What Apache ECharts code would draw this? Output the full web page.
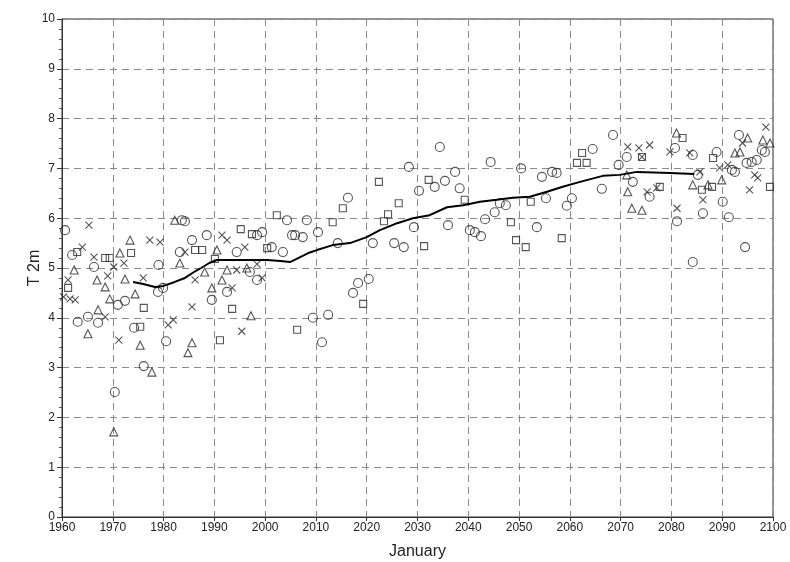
<!DOCTYPE html>
<html>
<head>
<meta charset="utf-8">
<script src="https://cdn.jsdelivr.net/npm/echarts@6/dist/echarts.min.js"></script>
<style>html,body{margin:0;padding:0;background:#fff;}#c{width:790px;height:562px;}</style>
</head>
<body>
<div id="c"></div>
<script>
const xTicks = [1960,1970,1980,1990,2000,2010,2020,2030,2040,2050,2060,2070,2080,2090,2100];
const yTicks = [0,1,2,3,4,5,6,7,8,9,10];

const circles = [
[1960.6,5.76],[1962,5.26],[1966.3,5.02],[1971,4.26],[1972.4,4.34],[1963.1,3.92],[1965.1,4.02],[1967.1,3.9],
[1974.2,3.8],[1980.5,3.53],[1976.1,3.03],[1970.4,2.51],[1983.6,5.96],[1983.2,5.32],[1978.9,4.52],[1979.9,4.6],[1979,5.06],
[1984.2,5.94],[1985.6,5.56],[1988.5,5.66],[1994.4,5.32],[1998.4,5.66],[1999.4,5.72],[2001.3,5.42],[2003.5,5.32],
[1997,4.92],[1998.4,4.76],[1992.5,4.52],[1989.5,4.36],[2004.3,5.96],[2008.2,5.96],[2005.3,5.66],[2005.9,5.66],
[2010.4,5.72],[2007.4,5.62],[2014.3,5.5],[2016.3,6.41],[2018.3,4.7],[2020.4,4.78],[2017.3,4.5],[2009.4,4.0],[2012.4,4.06],[2011.2,3.51],
[2021.2,5.5],[2025.4,5.5],[2027.3,5.42],[2028.3,7.03],[2029.3,5.82],[2030.3,6.55],[2033.4,6.63],[2034.4,7.43],[2035.4,6.75],[2036,5.86],
[2037.4,6.93],[2038.3,6.6],[2040.3,5.76],[2041.3,5.72],[2042.5,5.64],[2043.3,5.98],[2044.4,7.13],[2045.2,6.12],[2046.2,6.3],[2047.4,6.26],
[2050.4,7.0],[2053.5,5.82],[2054.5,6.83],[2055.3,6.4],[2056.5,6.93],[2057.4,6.91],[2059.4,6.25],[2060.4,6.4],
[2064.5,7.39],[2066.3,6.59],[2068.5,7.67],[2069.6,7.07],[2071.2,7.23],[2072.4,6.73],[2075.7,6.43],[2080.7,7.41],[2081.1,5.94],
[2084.2,7.27],[2084.2,5.12],[2085.2,6.87],[2086.2,6.1],[2088.9,7.33],[2090.1,6.33],[2091.3,6.02],[2091.9,6.97],[2092.5,6.93],
[2093.3,7.67],[2094.5,5.42],[2094.8,7.11],[2095.8,7.13],[2096.8,7.17],[2097.8,7.37],[2098.4,7.33]
];
const crosses = [
[1960.3,4.42],[1961.2,4.76],[1961.6,4.38],[1962.6,4.36],[1964,5.42],[1965.3,5.86],[1966.3,5.22],[1968.5,4.02],[1969,4.84],
[1970.2,5.02],[1971.2,3.55],[1972.2,5.1],[1976,4.8],[1977.3,5.56],[1979.3,5.52],[1980.9,3.86],[1981.9,3.96],
[1984.2,5.32],[1985.6,4.22],[1986.2,4.76],[1991.5,5.66],[1992.5,5.56],[1993.5,4.6],[1994.4,4.96],[1995.4,3.73],
[1996,5.42],[1998.4,5.08],[1999.4,4.8],
[2071.4,7.43],[2073.6,7.41],[2074.2,7.23],[2075.2,6.53],[2075.7,7.47],[2077.1,6.61],[2079.7,7.33],[2081.1,6.2],
[2083.6,7.31],[2085.6,6.93],[2086.2,6.37],[2089.5,7.01],[2091.1,7.07],[2094,7.51],[2095.4,6.57],[2096.4,6.87],[2097,6.81],[2098.6,7.83]
];
const triangles = [
[1962.4,4.96],[1965.1,3.68],[1966.9,4.76],[1967.1,4.16],[1968.5,4.62],[1969.4,4.38],[1970.2,1.71],[1971.4,5.3],[1972.4,4.78],
[1973.4,5.56],[1974.4,4.48],[1975.4,3.45],[1977.7,2.91],[1982.2,5.96],[1983.2,5.1],[1984.8,3.3],[1985.6,3.5],
[1988.1,4.92],[1989.5,4.6],[1990.5,5.36],[1991.5,4.76],[1992.5,4.96],[1996.4,5.0],[1997.2,4.04],
[2071.2,6.87],[2071.4,6.53],[2072.2,6.2],[2074.2,6.16],[2081,7.71],[2084.2,6.67],[2087.2,6.67],[2089.9,6.77],
[2092.5,7.31],[2093.5,7.33],[2095,7.61],[2098,7.57],[2099.4,7.51]
];
const squares = [
[1961.2,4.6],[1963,5.32],[1968.5,5.2],[1969.4,5.2],[1973.6,5.3],[1975.4,3.82],[1976.1,4.2],
[1986.2,5.36],[1987.6,5.36],[1990.1,5.18],[1991.1,3.55],[1993.5,4.18],[1995.2,5.78],[1997.4,5.68],[2000.4,5.4],
[2002.3,6.06],[2006.3,3.76],[2013.3,5.92],[2015.3,6.2],[2019.3,4.28],[2022.4,6.73],[2023.4,5.94],[2024.2,6.08],[2026.3,6.3],
[2031.3,5.44],[2032.2,6.77],[2039.3,6.37],[2048.4,5.92],[2049.4,5.56],[2051.3,5.42],[2052.3,6.33],[2058.4,5.6],
[2061.4,7.11],[2062.4,7.31],[2063.3,7.11],[2074.2,7.23],[2077.7,6.63],[2082.2,7.61],[2086,6.57],[2088,6.63],[2088.2,7.21],[2099.4,6.63]
];
const meanLine = [
[1974,4.72],[1976,4.68],[1978.3,4.62],[1980,4.64],[1982.2,4.72],[1984.2,4.8],[1986,4.92],[1987.4,5.0],[1989,5.1],[1990.5,5.16],
[1993.7,5.16],[1997,5.16],[2000.4,5.16],[2003,5.14],[2004.9,5.12],[2006.9,5.22],[2008.5,5.3],[2010.2,5.36],[2013.3,5.46],
[2016.7,5.5],[2020,5.62],[2022.6,5.76],[2026,5.9],[2029.1,6.0],[2032.4,6.06],[2035.8,6.22],[2039,6.26],[2042.3,6.33],
[2045.6,6.37],[2048.8,6.41],[2052.1,6.43],[2055.5,6.53],[2058.6,6.63],[2062,6.73],[2066.5,6.85],[2069.8,6.87],
[2073.2,6.93],[2076.5,6.92],[2079.7,6.91],[2084.5,6.89]
];

const stroke = '#2a2a2a';
function scatter(data, symbol, size){
  return {type:'scatter', data:data, symbol:symbol, symbolSize:size, symbolKeepAspect:true,
    itemStyle:{color:'rgba(255,255,255,0)', borderColor:stroke, borderWidth:1.1}, silent:true, animation:false};
}
const chart = echarts.init(document.getElementById('c'), null, {renderer:'canvas'});
chart.setOption({
  animation:false,
  backgroundColor:'#fff',
  grid:{left:62, right:17, top:19, bottom:45, outerBoundsMode:'none', containLabel:false,
    show:true, borderColor:'#333', borderWidth:1},
  xAxis:{type:'value', min:xTicks[0], max:xTicks[xTicks.length-1], interval:10,
    name:'January', nameLocation:'middle', nameGap:27,
    nameTextStyle:{fontFamily:'Liberation Sans', fontSize:16, color:'#222'},
    axisLine:{lineStyle:{color:'#333'}},
    axisTick:{show:true, length:4, lineStyle:{color:'#333'}},
    axisLabel:{fontFamily:'Liberation Sans', fontSize:12, color:'#222', margin:5, formatter:function(v){return String(v);}},
    splitLine:{show:true, lineStyle:{type:[7,5], color:'#8a8a8a', width:1}}},
  yAxis:{type:'value', min:yTicks[0], max:yTicks[yTicks.length-1], interval:1,
    name:'T 2m', nameLocation:'middle', nameGap:19, nameMoveOverlap:false,
    nameTextStyle:{fontFamily:'Liberation Sans', fontSize:16, color:'#222'},
    axisLine:{show:true, lineStyle:{color:'#333'}},
    axisTick:{show:true, length:5, lineStyle:{color:'#333'}},
    minorTick:{show:true, splitNumber:5, length:3, lineStyle:{color:'#555'}},
    axisLabel:{fontFamily:'Liberation Sans', fontSize:12, color:'#222', margin:7, formatter:function(v){return String(v);}},
    splitLine:{show:true, lineStyle:{type:[7,5], color:'#8a8a8a', width:1}}},
  series:[
    scatter(circles,'circle',9),
    scatter(crosses,'path://M0,0L10,10M10,0L0,10',7),
    scatter(triangles,'triangle',8),
    scatter(squares,'rect',7),
    {type:'line', data:meanLine, showSymbol:false, smooth:false, lineStyle:{color:'#000', width:2}, silent:true, z:5}
  ]
});
</script>
</body>
</html>
